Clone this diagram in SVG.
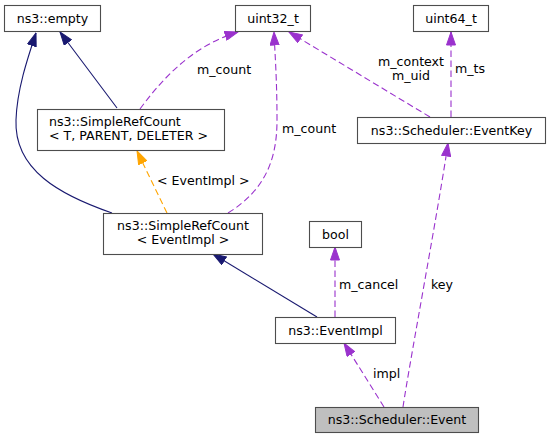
<svg xmlns="http://www.w3.org/2000/svg" width="550" height="439" viewBox="0 0 550 439">
<style>
.node rect{fill:#ffffff;stroke:#4d4d4d;stroke-width:1.1}
.node text,.lbl{font-family:"DejaVu Sans",sans-serif;font-size:12.6px;fill:#000}
.node text{text-anchor:middle}
.e{fill:none;stroke-width:1.1}
.nv{stroke:#191970;marker-end:url(#an)}
.pu{stroke:#9a32cd;stroke-dasharray:6.5,3.5;marker-end:url(#ap)}
.or{stroke:#ffa500;stroke-dasharray:6.5,3.5;marker-end:url(#ao)}
</style>
<defs>
<marker id="an" viewBox="0 0 14 10" refX="13.5" refY="5" markerUnits="userSpaceOnUse" markerWidth="14" markerHeight="10" orient="auto"><path d="M0.5,0.5 L13.5,5 L0.5,9.5 z" fill="#191970" stroke="#191970"/></marker>
<marker id="ap" viewBox="0 0 14 10" refX="13.5" refY="5" markerUnits="userSpaceOnUse" markerWidth="14" markerHeight="10" orient="auto"><path d="M0.5,0.5 L13.5,5 L0.5,9.5 z" fill="#9a32cd" stroke="#9a32cd"/></marker>
<marker id="ao" viewBox="0 0 14 10" refX="13.5" refY="5" markerUnits="userSpaceOnUse" markerWidth="14" markerHeight="10" orient="auto"><path d="M0.5,0.5 L13.5,5 L0.5,9.5 z" fill="#ffa500" stroke="#ffa500"/></marker>
</defs>
<rect width="550" height="439" fill="#ffffff"/>
<g id="edges">
<path class="e nv" d="M117,108 L60,32"/>
<path class="e nv" d="M112,213 C60,195 14,170 16,120 C17,90 27,60 36,33"/>
<path class="e or" d="M167,213 L137,151"/>
<path class="e pu" d="M140,109 C165,75 195,45 238,32"/>
<path class="e pu" d="M228,213 C265,190 277,160 277,120 C277,80 275,55 274,32"/>
<path class="e pu" d="M430,117 L289,32"/>
<path class="e pu" d="M451,117 L451,32"/>
<path class="e pu" d="M403,407 C410,360 440,200 448,143"/>
<path class="e pu" d="M335,317 L335,247"/>
<path class="e nv" d="M317,317 L213,254"/>
<path class="e pu" d="M384,407 L344,343"/>
<text class="lbl" x="197" y="74">m_count</text>
<text class="lbl" x="157" y="185">&lt; EventImpl &gt;</text>
<text class="lbl" x="282" y="133">m_count</text>
<text class="lbl" x="411" y="66" text-anchor="middle">m_context</text>
<text class="lbl" x="411" y="80" text-anchor="middle">m_uid</text>
<text class="lbl" x="455" y="73">m_ts</text>
<text class="lbl" x="339" y="289">m_cancel</text>
<text class="lbl" x="431" y="289">key</text>
<text class="lbl" x="373" y="378">impl</text>
</g>
<g id="n_empty" class="node"><rect x="4.5" y="5.5" width="96" height="26"/><text x="52.5" y="22.5">ns3::empty</text></g>
<g id="n_uint32" class="node"><rect x="235.5" y="5.5" width="75" height="26"/><text x="273" y="22.5">uint32_t</text></g>
<g id="n_uint64" class="node"><rect x="413.5" y="5.5" width="75" height="26"/><text x="451" y="22.5">uint64_t</text></g>
<g id="n_src_t" class="node"><rect x="37.5" y="109.5" width="187" height="41"/><text x="49" y="126" style="text-anchor:start">ns3::SimpleRefCount</text><text x="49" y="140" style="text-anchor:start">&lt; T, PARENT, DELETER &gt;</text></g>
<g id="n_src_ev" class="node"><rect x="103.5" y="213.5" width="159" height="41"/><text x="183" y="229.5">ns3::SimpleRefCount</text><text x="183" y="244">&lt; EventImpl &gt;</text></g>
<g id="n_eventkey" class="node"><rect x="357.5" y="117.5" width="188" height="26"/><text x="451.5" y="134.5">ns3::Scheduler::EventKey</text></g>
<g id="n_bool" class="node"><rect x="309.5" y="221.5" width="52" height="26"/><text x="335.5" y="238.5">bool</text></g>
<g id="n_eventimpl" class="node"><rect x="275.5" y="317.5" width="120" height="26"/><text x="335.5" y="334.5">ns3::EventImpl</text></g>
<g id="n_event" class="node"><rect x="315.5" y="407.5" width="163" height="25" style="fill:#bfbfbf"/><text x="397" y="424">ns3::Scheduler::Event</text></g>
</svg>
